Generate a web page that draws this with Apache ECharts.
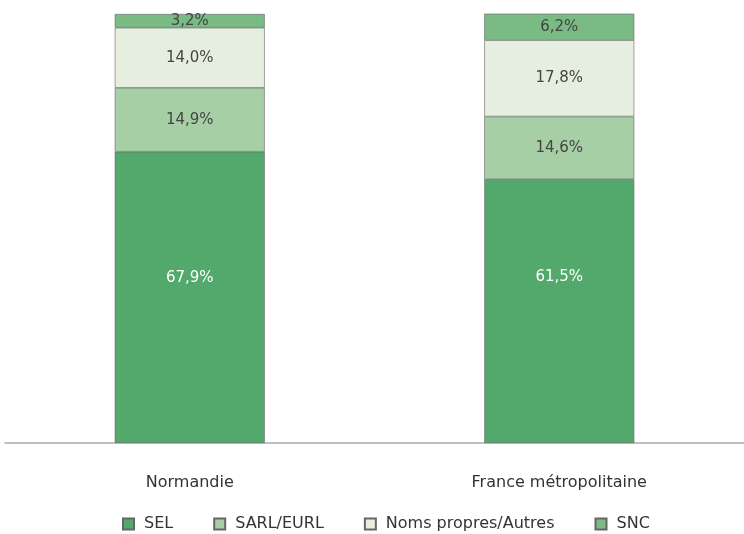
<!DOCTYPE html>
<html>
<head>
<meta charset="utf-8">
<script src="https://cdn.jsdelivr.net/npm/echarts@6/dist/echarts.min.js"></script>
<style>
  html, body { margin: 0; padding: 0; background: #fff; }
  #chart { width: 744px; height: 534px; }
</style>
</head>
<body>
<div id="chart"></div>
<script>
// données
const categories = ['Normandie', 'France métropolitaine']
const sel = [67.9, 61.5]
const sarl = [14.9, 14.6]
const noms = [14.0, 17.8]
const snc = [3.2, 6.2]

// décalage vertical des étiquettes SEL
const selLabelOffset = [-19, -34]

const chart = echarts.init(document.getElementById('chart'))

const fmt = p => p.value.toFixed(1).replace('.', ',') + '%'

function serie(name, data, color, labelColor) {
  return {
    name: name,
    type: 'bar',
    stack: 'total',
    data: data,
    barWidth: 150,
    itemStyle: { color: color, borderColor: '#666', borderWidth: 0.6 },
    label: {
      show: true,
      position: 'inside',
      formatter: fmt,
      color: labelColor,
      fontSize: 15,
      fontFamily: 'DejaVu Sans'
    }
  }
}

const selSerie = serie('SEL', sel.map((v, i) => ({
  value: v,
  label: { offset: [0, selLabelOffset[i]] }
})), '#52a96b', '#fff')

chart.setOption({
  animation: false,
  textStyle: { fontFamily: 'DejaVu Sans' },
  grid: { left: 5, right: 0, top: 14, bottom: 91 },
  legend: {
    bottom: -3,
    left: 117,
    itemWidth: 11,
    itemHeight: 11,
    itemGap: 40,
    icon: 'rect',
    textStyle: { fontSize: 16, color: '#333', padding: [0, 0, 0, 5] },
    data: ['SEL', 'SARL/EURL', 'Noms propres/Autres', 'SNC']
  },
  xAxis: {
    type: 'category',
    data: categories,
    axisLine: { lineStyle: { color: '#aaa', width: 1.5 } },
    axisTick: { show: false },
    axisLabel: { fontSize: 16, color: '#333', margin: 32 }
  },
  yAxis: {
    type: 'value',
    min: 0,
    max: 100,
    show: false
  },
  series: [
    selSerie,
    serie('SARL/EURL', sarl, '#a6cfa6', '#444'),
    serie('Noms propres/Autres', noms, '#e6efdf', '#444'),
    serie('SNC', snc, '#7aba84', '#444')
  ]
})
</script>
</body>
</html>
